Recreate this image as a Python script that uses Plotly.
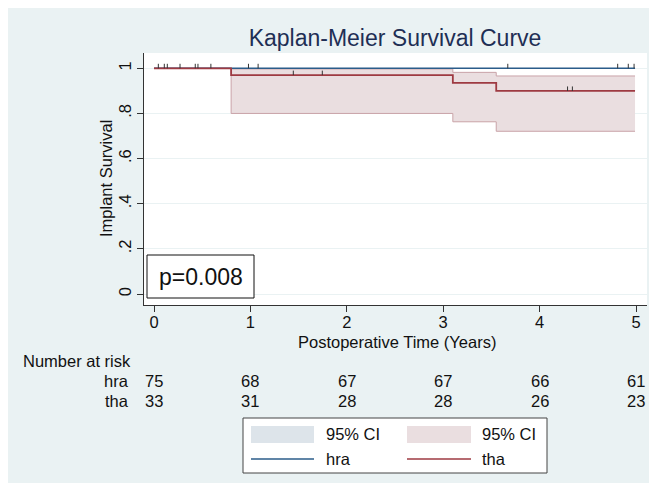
import plotly.graph_objects as go

# ---------------- data ----------------
years = [0, 1, 2, 3, 4, 5]
tha_time = [0, 0.80, 3.10, 3.55, 4.99]
tha_surv = [1.0, 0.9697, 0.9350, 0.8996, 0.8996]
tha_lo = [1.0, 0.800, 0.763, 0.721, 0.721]
tha_hi = [1.0, 0.997, 0.982, 0.966, 0.966]
hra_time = [0, 4.99]
hra_surv = [1.0, 1.0]
hra_censor = [0.045, 0.107, 0.138, 0.27, 0.428, 0.59, 0.98, 1.08, 3.67, 4.81, 4.92, 4.98]
tha_censor = [0.456, 1.445, 1.746, 4.29, 4.34]
risk_hra = [75, 68, 67, 67, 66, 61]
risk_tha = [33, 31, 28, 28, 26, 23]
ytick_vals = [0, 0.2, 0.4, 0.6, 0.8, 1]
ytick_text = ["0", ".2", ".4", ".6", ".8", "1"]
p_text = "p=0.008"

# ---------------- geometry helpers (page pixels; figure sits at body offset 8,8) ----------------
OFF = 8
W, H = 657 - OFF, 485 - OFF
PL, PR, PT, PB = 144, 647, 53, 305
def fx(px):
    return (px - PL) / (PR - PL)
def fy(py):
    return (PB - py) / (PB - PT)

BLUE = "#2B5C8A"
RED = "#9E3A42"
CI_RED_FILL = "#EADEE0"
CI_RED_EDGE = "#C9A3A8"
CI_BLUE_FILL = "#DDE4EA"
BG = "#EAF2F3"
FONT = "Liberation Sans"
TXT = "#111111"

def surv_at(times, surv, t):
    s = surv[0]
    for ti, si in zip(times, surv):
        if ti <= t:
            s = si
    return s

fig = go.Figure()

# tha CI band
fig.add_trace(go.Scatter(x=tha_time, y=tha_hi, mode="lines", line_shape="hv",
                         line=dict(color=CI_RED_EDGE, width=1), showlegend=False, hoverinfo="skip"))
fig.add_trace(go.Scatter(x=tha_time, y=tha_lo, mode="lines", line_shape="hv", fill="tonexty",
                         fillcolor=CI_RED_FILL,
                         line=dict(color=CI_RED_EDGE, width=1), showlegend=False, hoverinfo="skip"))
# hra curve
fig.add_trace(go.Scatter(x=hra_time, y=hra_surv, mode="lines", line_shape="hv",
                         line=dict(color=BLUE, width=1.6), showlegend=False))
# tha curve
fig.add_trace(go.Scatter(x=tha_time, y=tha_surv, mode="lines", line_shape="hv",
                         line=dict(color=RED, width=1.8), showlegend=False))

# censor ticks
TL = 0.02
for times, surv, cens in [(hra_time, hra_surv, hra_censor), (tha_time, tha_surv, tha_censor)]:
    ys = [surv_at(times, surv, t) for t in cens]
    fig.add_trace(go.Scatter(x=cens, y=ys, mode="markers",
                             marker=dict(size=1, color="rgba(0,0,0,0)"),
                             error_y=dict(type="data", symmetric=False, array=[TL] * len(cens),
                                          arrayminus=[0] * len(cens), width=0, thickness=1,
                                          color="#333333"),
                             showlegend=False, hoverinfo="skip"))

shapes = []
# white strip below the light graph region
shapes.append(dict(type="rect", xref="paper", yref="paper", x0=fx(0), x1=fx(W + 20), y0=fy(H + 20), y1=fy(483),
                   fillcolor="white", line=dict(width=0), layer="below"))

# p-value box
shapes.append(dict(type="rect", xref="paper", yref="paper", x0=fx(147), x1=fx(254), y0=fy(298), y1=fy(255),
                   fillcolor="white", line=dict(color=TXT, width=1), layer="above"))

# legend box
shapes.append(dict(type="rect", xref="paper", yref="paper", x0=fx(243), x1=fx(547), y0=fy(473), y1=fy(418),
                   fillcolor="white", line=dict(color="#444444", width=1)))
shapes.append(dict(type="rect", xref="paper", yref="paper", x0=fx(251), x1=fx(314), y0=fy(443), y1=fy(426),
                   fillcolor=CI_BLUE_FILL, line=dict(width=0)))
shapes.append(dict(type="rect", xref="paper", yref="paper", x0=fx(407), x1=fx(471), y0=fy(443), y1=fy(426),
                   fillcolor=CI_RED_FILL, line=dict(width=0)))
shapes.append(dict(type="line", xref="paper", yref="paper", x0=fx(251), x1=fx(314), y0=fy(459), y1=fy(459),
                   line=dict(color=BLUE, width=1.5)))
shapes.append(dict(type="line", xref="paper", yref="paper", x0=fx(407), x1=fx(471), y0=fy(459), y1=fy(459),
                   line=dict(color=RED, width=1.5)))

ann = []
ann.append(dict(text=p_text, xref="paper", yref="paper", x=fx(200.5), y=fy(277), showarrow=False,
                xanchor="center", yanchor="middle", font=dict(size=23, color=TXT)))
ann.append(dict(text="Implant Survival", xref="paper", yref="paper", x=fx(106), y=fy(179), showarrow=False,
                textangle=-90, xanchor="center", yanchor="middle", font=dict(size=16.5, color=TXT)))
ann.append(dict(text="Postoperative Time (Years)", xref="paper", yref="paper", x=fx(397), y=fy(342),
                showarrow=False, xanchor="center", yanchor="middle", font=dict(size=16.5, color=TXT)))
ann.append(dict(text="Number at risk", xref="paper", yref="paper", x=fx(21), y=fy(361), showarrow=False,
                xanchor="left", yanchor="middle", font=dict(size=16.5, color=TXT)))
for label, vals, py in [("hra", risk_hra, 381), ("tha", risk_tha, 401)]:
    ann.append(dict(text=label, xref="paper", yref="paper", x=fx(131), y=fy(py), showarrow=False,
                    xanchor="right", yanchor="middle", font=dict(size=16.5, color=TXT)))
    for yr, v in zip(years, vals):
        ann.append(dict(text=str(v), xref="x", yref="paper", x=yr, y=fy(py), showarrow=False,
                        xanchor="center", yanchor="middle", font=dict(size=16.5, color=TXT)))
for txt, px, py in [("95% CI", 324, 434), ("95% CI", 480, 434), ("hra", 324, 459), ("tha", 480, 459)]:
    ann.append(dict(text=txt, xref="paper", yref="paper", x=fx(px), y=fy(py), showarrow=False,
                    xanchor="left", yanchor="middle", font=dict(size=16.5, color=TXT)))

x0 = -(154 - PL) / 96.4
x1 = (PR - 154) / 96.4
y_unit = 225.7
ylo = -(PB - 294) / y_unit
yhi = (294 - PT) / y_unit

fig.update_layout(
    width=W, height=H,
    margin=dict(l=PL - OFF, r=OFF + W - PR, t=PT - OFF, b=OFF + H - PB, pad=0),
    paper_bgcolor=BG, plot_bgcolor="white",
    font=dict(family=FONT, size=16, color=TXT),
    title=dict(text="Kaplan-Meier Survival Curve", x=fx(395), xref="paper", xanchor="center",
               y=1 - (38 - OFF) / H, yref="container", yanchor="middle",
               font=dict(size=23, color="#1F2F55", family=FONT)),
    showlegend=False,
    shapes=shapes,
    annotations=ann,
    xaxis=dict(range=[x0, x1], tickvals=years, ticks="outside", ticklen=6, tickcolor="#333333",
               ticklabelstandoff=-4,
               showline=True, linecolor="#333333", linewidth=1, showgrid=False, zeroline=False,
               tickfont=dict(size=16.5, color=TXT)),
    yaxis=dict(range=[ylo, yhi], tickvals=ytick_vals, ticktext=ytick_text, tickangle=-90,
               ticks="outside", ticklen=6, tickcolor="#333333", ticklabelstandoff=-1,
               showline=True, linecolor="#333333", linewidth=1, showgrid=True, gridcolor=BG,
               gridwidth=1, zeroline=False, tickfont=dict(size=16.5, color=TXT)),
)

fig.write_html("out.html")
